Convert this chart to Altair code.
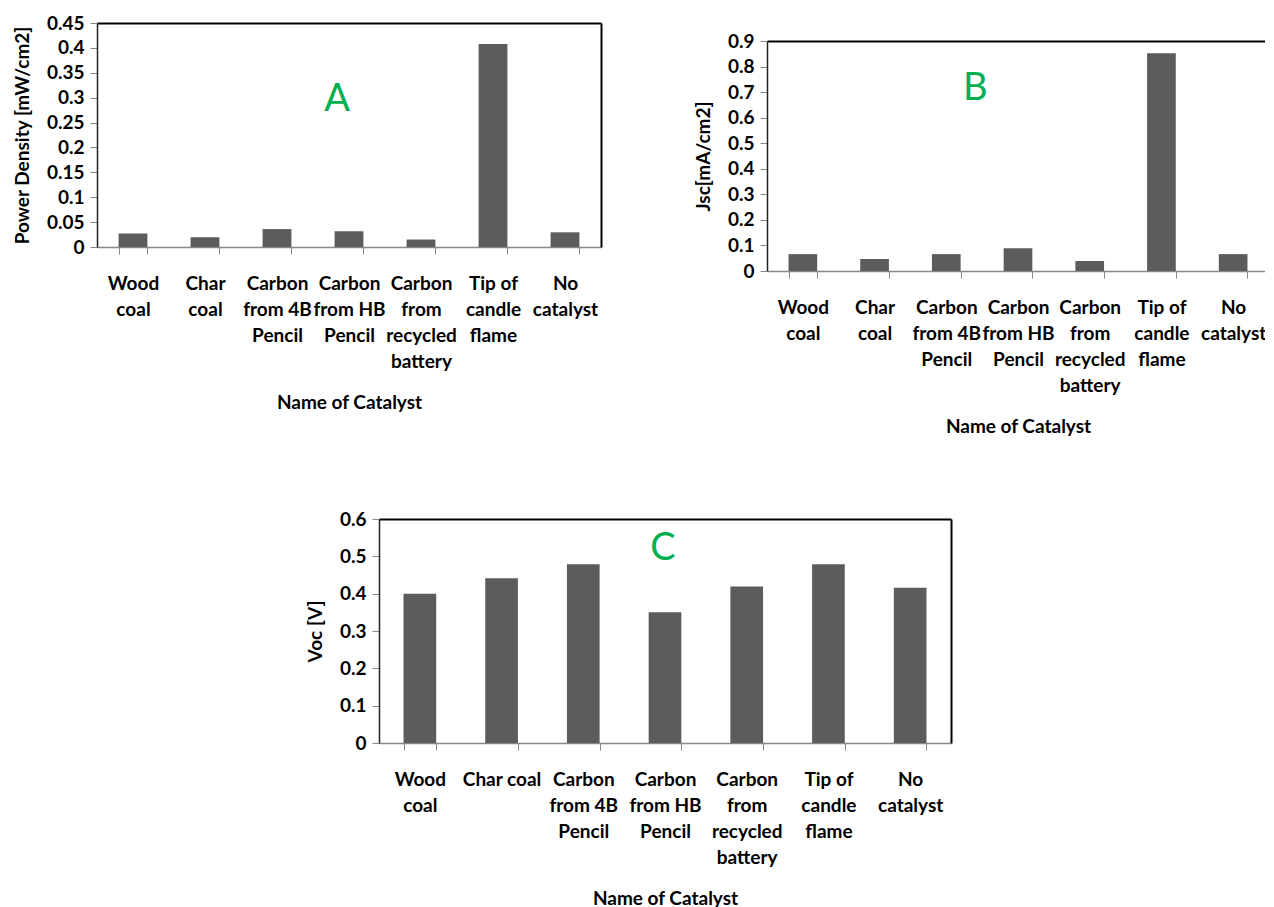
import altair as alt
import pandas as pd

catalysts = ["Wood coal", "Char coal", "Carbon from 4B Pencil", "Carbon from HB Pencil",
             "Carbon from recycled battery", "Tip of candle flame", "No catalyst"]
labels_ab = ["Wood|coal", "Char|coal", "Carbon|from 4B|Pencil", "Carbon|from HB|Pencil",
             "Carbon|from|recycled|battery", "Tip of|candle|flame", "No|catalyst"]
labels_c = ["Wood|coal", "Char coal", "Carbon|from 4B|Pencil", "Carbon|from HB|Pencil",
            "Carbon|from|recycled|battery", "Tip of|candle|flame", "No|catalyst"]

power_density = [0.027, 0.0195, 0.036, 0.0315, 0.015, 0.408, 0.0295]
jsc = [0.066, 0.047, 0.066, 0.089, 0.039, 0.852, 0.066]
voc = [0.400, 0.441, 0.479, 0.350, 0.419, 0.479, 0.416]

ticks_a = [0, 0.05, 0.1, 0.15, 0.2, 0.25, 0.3, 0.35, 0.4, 0.45]
ticks_b = [0, 0.1, 0.2, 0.3, 0.4, 0.5, 0.6, 0.7, 0.8, 0.9]
ticks_c = [0, 0.1, 0.2, 0.3, 0.4, 0.5, 0.6]

FONT = "Lato"
BAR = "#5c5c5c"
GREEN = "#00b050"


def panel(values, labels, ticks, ytitle, letter, letter_idx, letter_y, letter_dx,
          right_border=True):
    df = pd.DataFrame({"catalyst": catalysts, "label": labels, "value": values})
    xscale = alt.Scale(paddingInner=0.6, paddingOuter=0.3)
    yscale = alt.Scale(domain=[ticks[0], ticks[-1]], nice=False)
    bars = alt.Chart(df).mark_bar(color=BAR).encode(
        x=alt.X("label:N", sort=labels, scale=xscale, axis=alt.Axis(
            title="Name of Catalyst", labelExpr="split(datum.label, '|')", labelAngle=0,
            tickBand="extent", tickSize=7, tickColor="#888", domainColor="#888",
            domainWidth=1.5, labelPadding=20, titlePadding=22, labelLineHeight=26,
            labelLimit=300)),
        y=alt.Y("value:Q", scale=yscale, axis=alt.Axis(
            values=ticks, format="~g", title=ytitle, tickSize=7, tickColor="#888",
            domainColor="#222", domainWidth=1.5, labelPadding=6, titlePadding=14,
            grid=False)),
    )
    frame = alt.Chart(df).mark_bar(opacity=0).encode(
        x=alt.X("label:N", sort=labels, axis=alt.Axis(
            orient="top", labels=False, ticks=False, title=None,
            domainColor="#000", domainWidth=2)),
        y=alt.Y("value:Q", axis=alt.Axis(
            orient="right", labels=False, ticks=False, title=None, grid=False,
            domainColor="#000" if right_border else "transparent", domainWidth=2)),
    )
    text = alt.Chart(pd.DataFrame({"t": [letter]})).mark_text(
        font=FONT, fontSize=38, color=GREEN, dx=letter_dx, baseline="middle"
    ).encode(
        x=alt.XDatum(labels[letter_idx], axis=None),
        y=alt.YDatum(letter_y, axis=None),
        text="t:N",
    )
    return alt.layer(bars, frame, text).resolve_axis(x="independent", y="independent")


a = panel(power_density, labels_ab, ticks_a, "Power Density  [mW/cm2]", "A", 3, 0.295, -12
          ).properties(width=504, height=224)
b = panel(jsc, labels_ab, ticks_b, "Jsc[mA/cm2]", "B", 2, 0.712, 29, right_border=False
          ).properties(width=502, height=230)
c = panel(voc, labels_c, ticks_c, "Voc [V]", "C", 3, 0.519, -2
          ).properties(width=572, height=224)

spacer_top = alt.Chart(pd.DataFrame({"v": [0]})).mark_point(opacity=0).properties(width=10, height=1)
spacer_left = alt.Chart(pd.DataFrame({"v": [0]})).mark_point(opacity=0).properties(width=209, height=10)

b_col = alt.vconcat(spacer_top, b, spacing=5)
top = alt.hconcat(a, b_col, spacing=93)
bottom = alt.hconcat(spacer_left, c, spacing=0)

chart = alt.vconcat(top, bottom, spacing=74).properties(
    padding={"left": 5, "top": 6, "right": -4, "bottom": 0}
).configure_view(strokeWidth=0).configure_axis(
    labelFont=FONT, labelFontWeight="bold", labelFontSize=19, labelColor="#000",
    titleFont=FONT, titleFontWeight="bold", titleFontSize=19, titleColor="#000"
)

chart.save("out.html", embed_options={"renderer": "svg", "actions": False})
